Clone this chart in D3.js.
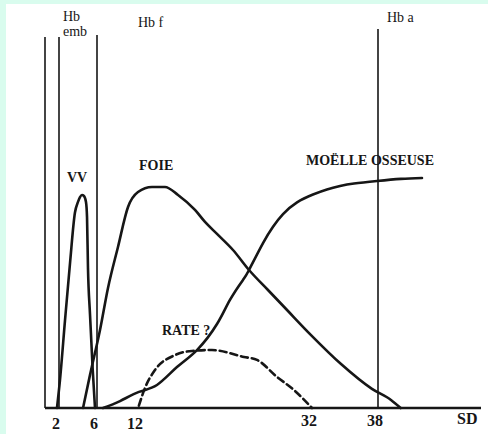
<!DOCTYPE html>
<html>
<head>
<meta charset="utf-8">
<script src="https://cdn.jsdelivr.net/npm/d3@7"></script>
<style>
  body { margin: 0; background: #d9fcee; }
  #chart { position: absolute; left: 6px; top: 4px; width: 482px; height: 430px; background: #ffffff; }
  svg { position: absolute; left: -6px; top: -4px; }
</style>
</head>
<body>
<div id="chart"></div>
<script>
/*
 *  DATA (SD = semaines de developpement, y = activite relative)
 */
var hb_lines = [0, 2, 6, 38];
var tick_values = [2, 6, 12, 32, 38];
var tick_labels = ["2", "6", "12", "32", "38"];

var vv_sd  = [1.71, 2.1, 2.63, 3.16, 3.68, 4.0, 4.21, 4.42, 4.63, 4.84, 4.95, 5.05, 5.26, 5.55, 5.79];
var vv_val = [0, 12, 38, 63, 85, 89.6, 91.7, 92.6, 92.2, 89.6, 83, 61, 41, 16.5, 0];

var foie_sd  = [4.53, 5.26, 6.44, 7.61, 9.07, 10.54, 12.0, 13.61, 15.1, 16.6, 18.55, 19.7, 21.08, 22.92, 24.76, 26.94, 29.13, 31.89, 34.64, 37.45, 39.26, 40.2];
var foie_val = [0, 14.3, 33.9, 52.2, 70, 87.4, 93.9, 96.1, 96.1, 92.6, 86.1, 80.9, 75.7, 68.7, 60, 51.3, 42.6, 31.7, 19.1, 8.3, 3.5, 0];

var moelle_sd  = [6.88, 9.37, 12.11, 14.18, 16.48, 18.78, 21.08, 22.57, 24.07, 24.76, 26.37, 27.52, 28.67, 30.28, 32.09, 33.36, 34.55, 35.82, 37.91, 40.23, 42.27];
var moelle_val = [0, 3, 7, 10, 17.8, 25.2, 36.5, 47, 55.7, 60, 71.7, 78.8, 84.3, 89.4, 92.8, 95, 96.5, 97.6, 98.7, 99.6, 100];

var rate_sd  = [12.1, 12.8, 13.95, 16.25, 18.2, 20.5, 24.18, 25.68, 27.98, 29.93, 32];
var rate_val = [1, 8.7, 16.5, 23, 24.8, 25.2, 22.2, 20.9, 13.5, 7.8, 0];

/*
 *  SCALES (hand drawn axis, so the SD scale is piecewise)
 */
var x_scale = d3.scaleLinear()
    .domain([0, 2, 6, 12, 32, 38, 48])
    .range([45, 59, 97, 138, 312, 378, 481]);

var y_scale = d3.scaleLinear()
    .domain([0, 100])
    .range([408, 178]);

var serif = "'Liberation Serif', 'Times New Roman', 'DejaVu Serif', serif";
var ink = "#161616";

var svg = d3.select('#chart')
    .append('svg')
        .attr('width', 488)
        .attr('height', 434);

function zip(xs, ys) {
    return xs.map(function(v, i) { return {sd: v, val: ys[i]}; });
}

function valueline(curve) {
    return d3.line()
        .curve(curve)
        .x(function(d) { return x_scale(d.sd); })
        .y(function(d) { return y_scale(d.val); });
}

// vertical hemoglobin boundaries
svg.selectAll('.hb')
    .data(hb_lines)
    .enter()
    .append('line')
    .attr('class', 'hb')
    .attr('x1', function(d) { return x_scale(d); })
    .attr('x2', function(d) { return x_scale(d); })
    .attr('y1', function(d) { return d == 38 ? 29 : (d == 6 ? 35 : 37); })
    .attr('y2', y_scale(0))
    .attr('stroke', ink)
    .attr('stroke-width', 1.6);

// curves
var curves = [
    {data: zip(vv_sd, vv_val), dash: null, curve: d3.curveMonotoneX},
    {data: zip(foie_sd, foie_val), dash: null, curve: d3.curveMonotoneX},
    {data: zip(moelle_sd, moelle_val), dash: null, curve: d3.curveNatural},
    {data: zip(rate_sd, rate_val), dash: "7,4", curve: d3.curveMonotoneX}
];

svg.selectAll('.curve')
    .data(curves)
    .enter()
    .append('path')
    .attr('class', 'curve')
    .attr('fill', 'none')
    .attr('stroke', ink)
    .attr('stroke-width', 2.6)
    .attr('stroke-linecap', 'round')
    .style('stroke-dasharray', function(d) { return d.dash; })
    .attr('d', function(d) { return valueline(d.curve)(d.data); });

// x axis
svg.append('line')
    .attr('x1', x_scale(0))
    .attr('x2', x_scale(48))
    .attr('y1', y_scale(0))
    .attr('y2', y_scale(0))
    .attr('stroke', ink)
    .attr('stroke-width', 2.4);

svg.selectAll('.tick')
    .data(tick_values)
    .enter()
    .append('text')
    .attr('class', 'tick')
    .attr('x', function(d) { return x_scale(d) - 3; })
    .attr('y', function(d) { return d >= 32 ? 426 : 429; })
    .attr('text-anchor', 'middle')
    .attr('font-family', serif)
    .attr('font-size', 16)
    .attr('font-weight', 'bold')
    .attr('fill', ink)
    .text(function(d, i) { return tick_labels[i]; });

svg.append('text')
    .attr('x', 457)
    .attr('y', 424)
    .attr('font-family', serif)
    .attr('font-size', 16)
    .attr('font-weight', 'bold')
    .attr('fill', ink)
    .text('SD');

// hemoglobin labels
var hb_text = [
    {t: "Hb", x: 63, y: 21},
    {t: "emb", x: 63, y: 36},
    {t: "Hb f", x: 138, y: 27},
    {t: "Hb a", x: 387, y: 22}
];
svg.selectAll('.hbt')
    .data(hb_text)
    .enter()
    .append('text')
    .attr('class', 'hbt')
    .attr('x', function(d) { return d.x; })
    .attr('y', function(d) { return d.y; })
    .attr('font-family', serif)
    .attr('font-size', 14)
    .attr('fill', ink)
    .text(function(d) { return d.t; });

// organ labels
var organ_text = [
    {t: "VV", x: 67, y: 182},
    {t: "FOIE", x: 139, y: 170},
    {t: "MOËLLE OSSEUSE", x: 306, y: 165},
    {t: "RATE ?", x: 162, y: 335}
];
svg.selectAll('.org')
    .data(organ_text)
    .enter()
    .append('text')
    .attr('class', 'org')
    .attr('x', function(d) { return d.x; })
    .attr('y', function(d) { return d.y; })
    .attr('font-family', serif)
    .attr('font-size', 14)
    .attr('font-weight', 'bold')
    .attr('fill', ink)
    .text(function(d) { return d.t; });
</script>
</body>
</html>
